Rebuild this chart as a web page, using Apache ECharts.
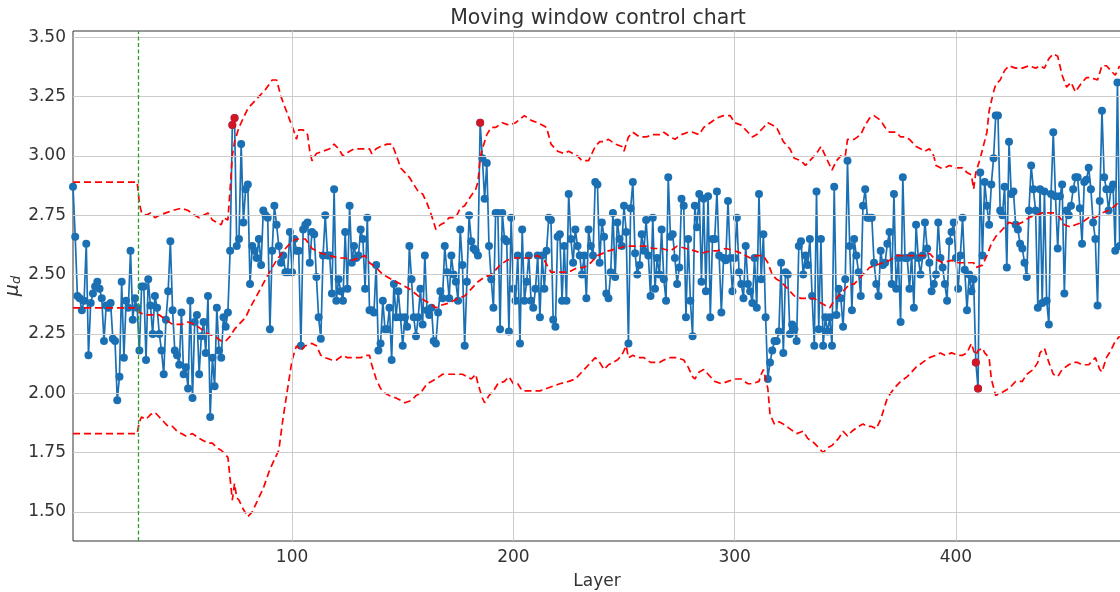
<!DOCTYPE html>
<html>
<head>
<meta charset="utf-8">
<script src="https://cdn.jsdelivr.net/npm/echarts@6/dist/echarts.min.js"></script>
<style>html,body{margin:0;padding:0;background:#fff}#c{width:1120px;height:592px}</style>
</head>
<body>
<div id="c"></div>
<script>
const titleText = 'Moving window control chart';
const xName = 'Layer';
const layerStart = 1;
const phaseBoundary = 30.5;
const xTicks = [100, 200, 300, 400];
const yTicks = [1.5, 1.75, 2.0, 2.25, 2.5, 2.75, 3.0, 3.25, 3.5];

const muD = [
2.87,2.66,2.41,2.40,2.35,2.39,2.63,2.16,2.38,2.42,
2.45,2.47,2.44,2.40,2.22,2.37,2.36,2.38,2.23,2.22,
1.97,2.07,2.47,2.15,2.39,2.36,2.60,2.31,2.40,2.36,
2.18,2.45,2.45,2.14,2.48,2.37,2.25,2.41,2.36,2.25,
2.18,2.08,2.31,2.43,2.64,2.35,2.18,2.16,2.12,2.34,
2.08,2.11,2.02,2.39,1.98,2.30,2.33,2.08,2.24,2.30,
2.17,2.41,1.90,2.15,2.03,2.36,2.18,2.15,2.32,2.28,
2.34,2.60,3.13,3.16,2.62,2.65,3.05,2.72,2.86,2.88,
2.46,2.62,2.60,2.57,2.65,2.54,2.77,2.75,2.74,2.27,
2.60,2.79,2.71,2.62,2.55,2.58,2.51,2.51,2.68,2.51,
2.65,2.60,2.60,2.20,2.69,2.71,2.72,2.55,2.68,2.67,
2.49,2.32,2.23,2.58,2.75,2.58,2.58,2.42,2.86,2.39,
2.48,2.43,2.39,2.68,2.44,2.79,2.55,2.62,2.57,2.58,
2.69,2.65,2.44,2.74,2.35,2.35,2.34,2.54,2.18,2.21,
2.39,2.27,2.27,2.36,2.14,2.46,2.32,2.43,2.32,2.20,
2.32,2.28,2.62,2.48,2.32,2.24,2.32,2.44,2.29,2.58,
2.35,2.33,2.36,2.22,2.21,2.34,2.43,2.40,2.62,2.51,
2.40,2.58,2.50,2.47,2.39,2.69,2.54,2.20,2.47,2.75,
2.64,2.61,2.60,2.58,3.14,2.99,2.82,2.97,2.62,2.48,
2.36,2.76,2.76,2.27,2.76,2.65,2.64,2.26,2.74,2.44,
2.39,2.58,2.21,2.69,2.39,2.47,2.58,2.39,2.36,2.44,
2.58,2.32,2.58,2.44,2.60,2.74,2.73,2.31,2.28,2.66,
2.67,2.39,2.62,2.39,2.84,2.65,2.55,2.69,2.62,2.58,
2.50,2.58,2.40,2.69,2.62,2.58,2.89,2.88,2.55,2.72,
2.66,2.42,2.40,2.51,2.76,2.49,2.72,2.65,2.62,2.79,
2.68,2.21,2.78,2.89,2.59,2.50,2.54,2.67,2.60,2.73,
2.58,2.41,2.74,2.44,2.57,2.50,2.69,2.48,2.39,2.91,
2.66,2.67,2.57,2.46,2.53,2.82,2.79,2.32,2.65,2.39,
2.24,2.79,2.70,2.84,2.47,2.82,2.43,2.83,2.32,2.65,
2.65,2.85,2.58,2.34,2.57,2.56,2.81,2.57,2.43,2.57,
2.74,2.51,2.46,2.40,2.62,2.46,2.43,2.38,2.57,2.36,
2.84,2.48,2.67,2.32,2.06,2.13,2.18,2.22,2.22,2.26,
2.55,2.17,2.51,2.50,2.25,2.29,2.27,2.22,2.62,2.64,
2.50,2.58,2.54,2.65,2.41,2.20,2.85,2.27,2.65,2.20,
2.32,2.26,2.32,2.20,2.87,2.33,2.44,2.40,2.28,2.48,
2.98,2.62,2.35,2.65,2.58,2.51,2.41,2.79,2.86,2.74,
2.74,2.74,2.55,2.46,2.41,2.60,2.54,2.55,2.63,2.68,
2.46,2.84,2.44,2.57,2.30,2.91,2.57,2.57,2.44,2.58,
2.36,2.71,2.57,2.50,2.58,2.72,2.61,2.55,2.43,2.46,
2.50,2.72,2.57,2.53,2.46,2.39,2.64,2.68,2.72,2.57,
2.44,2.58,2.74,2.52,2.35,2.50,2.43,2.48,2.13,2.02,
2.93,2.58,2.89,2.79,2.71,2.88,2.99,3.17,3.17,2.77,
2.75,2.87,2.53,3.06,2.84,2.85,2.71,2.69,2.63,2.61,
2.55,2.49,2.77,2.96,2.86,2.77,2.36,2.86,2.38,2.85,
2.39,2.29,2.84,3.10,2.83,2.61,2.83,2.88,2.42,2.77,
2.75,2.79,2.86,2.91,2.91,2.78,2.63,2.89,2.90,2.95,
2.86,2.72,2.65,2.37,2.81,3.19,2.91,2.86,2.77,2.86,
2.88,2.60,3.31,2.62
];

const outLayers = [73, 74, 185, 409, 410];

const uclPts = [[1,2.89],[30,2.89],[31,2.80],[32,2.76],[34,2.75],[36,2.76],[38,2.74],[40,2.75],[43,2.76],[46,2.77],[50,2.78],[53,2.77],[56,2.75],[58,2.74],[60,2.75],[62,2.76],[64,2.73],[66,2.72],[68,2.71],[69,2.74],[71,2.73],[72,2.86],[73,3.00],[74,3.06],[76,3.12],[78,3.16],[80,3.20],[84,3.24],[88,3.28],[91,3.32],[93,3.32],[95,3.25],[97,3.20],[99,3.15],[101,3.10],[102,3.07],[103,3.11],[105,3.11],[107,3.09],[108,3.02],[109,2.98],[111,3.01],[114,3.02],[117,3.03],[119,3.05],[121,3.03],[123,3.00],[126,3.02],[128,3.03],[131,3.03],[133,3.03],[135,3.03],[136,3.01],[138,3.03],[140,3.04],[143,3.05],[145,3.05],[146,3.03],[148,2.98],[149,2.95],[151,2.93],[153,2.91],[155,2.88],[157,2.85],[159,2.84],[161,2.80],[163,2.75],[165,2.69],[167,2.71],[169,2.72],[171,2.74],[174,2.74],[176,2.78],[178,2.79],[180,2.82],[183,2.86],[184,2.89],[185,2.99],[186,3.03],[188,3.09],[190,3.12],[192,3.12],[195,3.14],[198,3.13],[201,3.14],[205,3.17],[208,3.15],[211,3.14],[213,3.13],[215,3.12],[217,3.05],[220,3.02],[223,3.01],[225,3.02],[227,3.01],[229,3.00],[231,2.98],[234,2.98],[235,3.00],[237,3.04],[239,3.06],[241,3.06],[243,3.07],[246,3.05],[249,3.04],[250,3.02],[252,3.08],[254,3.10],[257,3.08],[260,3.08],[263,3.09],[267,3.09],[268,3.10],[271,3.08],[273,3.07],[276,3.09],[279,3.10],[281,3.10],[284,3.09],[286,3.12],[289,3.14],[292,3.16],[295,3.17],[298,3.17],[300,3.14],[303,3.13],[306,3.10],[308,3.08],[310,3.09],[313,3.12],[315,3.14],[317,3.13],[319,3.12],[322,3.06],[325,3.03],[327,2.99],[330,2.98],[332,2.96],[334,2.98],[337,3.01],[339,3.04],[340,3.02],[342,2.98],[344,2.94],[346,2.98],[348,3.00],[350,3.00],[351,3.07],[354,3.07],[357,3.09],[359,3.13],[361,3.16],[363,3.17],[366,3.15],[368,3.12],[370,3.10],[373,3.10],[375,3.08],[377,3.08],[379,3.07],[382,3.04],[384,3.03],[386,3.02],[388,3.03],[390,3.00],[391,2.96],[393,2.95],[395,2.95],[397,2.96],[400,2.95],[403,2.95],[405,2.93],[407,2.92],[408,2.86],[409,2.93],[411,2.99],[414,3.10],[415,3.19],[417,3.27],[418,3.30],[420,3.32],[422,3.36],[424,3.38],[427,3.37],[430,3.37],[433,3.38],[436,3.37],[438,3.38],[440,3.37],[442,3.41],[444,3.43],[446,3.42],[448,3.34],[450,3.29],[452,3.31],[454,3.27],[457,3.31],[459,3.33],[461,3.33],[464,3.32],[466,3.38],[468,3.38],[470,3.36],[472,3.34],[474,3.38]];

const clPts = [[1,2.36],[30,2.36],[31,2.34],[34,2.33],[37,2.33],[40,2.33],[43,2.31],[46,2.29],[50,2.29],[53,2.30],[56,2.29],[59,2.27],[62,2.25],[65,2.24],[68,2.22],[70,2.22],[72,2.24],[74,2.27],[76,2.29],[79,2.32],[81,2.36],[84,2.41],[88,2.48],[91,2.53],[93,2.56],[97,2.61],[100,2.64],[102,2.65],[106,2.65],[109,2.61],[113,2.59],[117,2.58],[121,2.57],[124,2.57],[127,2.56],[130,2.57],[133,2.58],[135,2.55],[138,2.53],[141,2.50],[145,2.48],[149,2.46],[153,2.44],[157,2.41],[160,2.39],[162,2.38],[165,2.36],[167,2.37],[171,2.38],[175,2.40],[178,2.41],[181,2.44],[184,2.47],[187,2.49],[190,2.50],[194,2.54],[197,2.56],[200,2.57],[203,2.57],[208,2.57],[211,2.58],[214,2.56],[217,2.51],[221,2.51],[225,2.51],[229,2.53],[232,2.53],[235,2.55],[238,2.58],[243,2.60],[247,2.61],[251,2.62],[256,2.62],[260,2.62],[263,2.61],[267,2.61],[271,2.60],[274,2.62],[278,2.61],[282,2.60],[285,2.59],[289,2.60],[292,2.60],[296,2.61],[300,2.60],[303,2.59],[307,2.57],[310,2.58],[313,2.58],[315,2.55],[317,2.50],[319,2.48],[321,2.47],[324,2.44],[327,2.41],[330,2.40],[333,2.40],[336,2.40],[339,2.38],[343,2.36],[345,2.39],[349,2.43],[352,2.46],[354,2.46],[356,2.48],[358,2.50],[361,2.53],[364,2.54],[367,2.55],[370,2.56],[373,2.58],[376,2.58],[380,2.58],[384,2.58],[387,2.58],[388,2.59],[390,2.57],[394,2.55],[398,2.56],[401,2.55],[405,2.55],[408,2.55],[409,2.53],[412,2.54],[414,2.58],[416,2.63],[418,2.66],[421,2.69],[424,2.72],[427,2.71],[430,2.72],[433,2.74],[436,2.75],[439,2.76],[442,2.76],[445,2.76],[447,2.74],[449,2.71],[452,2.70],[454,2.71],[457,2.72],[460,2.74],[463,2.74],[466,2.76],[469,2.77],[472,2.79],[474,2.81]];

const lclPts = [[1,1.83],[30,1.83],[31,1.88],[32,1.90],[34,1.89],[36,1.91],[38,1.92],[40,1.90],[42,1.88],[44,1.86],[46,1.86],[48,1.84],[50,1.83],[52,1.82],[55,1.83],[58,1.81],[60,1.80],[62,1.79],[64,1.79],[66,1.77],[68,1.76],[70,1.74],[71,1.73],[72,1.64],[73,1.55],[74,1.62],[75,1.56],[76,1.55],[78,1.51],[80,1.48],[82,1.50],[84,1.54],[87,1.60],[90,1.68],[92,1.72],[94,1.76],[96,1.90],[98,2.02],[100,2.14],[102,2.20],[104,2.18],[106,2.20],[109,2.21],[111,2.20],[113,2.16],[115,2.15],[118,2.14],[120,2.14],[123,2.16],[125,2.15],[128,2.15],[131,2.15],[133,2.16],[135,2.16],[136,2.12],[138,2.06],[140,2.02],[142,2.00],[144,1.99],[147,1.98],[149,1.97],[151,1.96],[154,1.97],[156,1.99],[158,2.00],[161,2.04],[165,2.06],[168,2.08],[171,2.08],[174,2.08],[177,2.08],[181,2.06],[183,2.08],[184,2.04],[186,1.98],[187,1.96],[189,1.99],[191,2.01],[193,2.04],[196,2.05],[198,2.07],[200,2.04],[202,2.04],[204,2.01],[207,2.01],[210,2.01],[212,2.01],[215,2.02],[218,2.03],[221,2.04],[225,2.05],[228,2.06],[230,2.08],[232,2.10],[235,2.13],[237,2.15],[239,2.13],[241,2.10],[243,2.12],[245,2.13],[247,2.14],[249,2.16],[251,2.20],[252,2.15],[254,2.16],[256,2.15],[259,2.15],[262,2.13],[266,2.13],[268,2.14],[271,2.15],[274,2.15],[277,2.14],[279,2.11],[281,2.07],[282,2.06],[284,2.09],[286,2.10],[288,2.08],[291,2.05],[294,2.04],[297,2.05],[300,2.06],[303,2.06],[306,2.04],[308,2.04],[311,2.05],[312,2.08],[313,2.10],[315,2.02],[316,1.91],[318,1.87],[320,1.88],[322,1.87],[325,1.85],[328,1.83],[331,1.84],[333,1.81],[336,1.79],[338,1.77],[340,1.75],[342,1.77],[344,1.78],[347,1.81],[349,1.84],[351,1.82],[353,1.84],[356,1.86],[358,1.87],[360,1.86],[362,1.86],[364,1.85],[366,1.89],[369,1.98],[372,2.02],[375,2.05],[378,2.07],[380,2.09],[382,2.11],[385,2.13],[388,2.15],[391,2.16],[393,2.17],[395,2.16],[398,2.17],[401,2.16],[403,2.16],[405,2.17],[407,2.21],[408,2.18],[409,2.16],[410,2.18],[412,2.19],[413,2.17],[415,2.15],[416,2.06],[418,1.99],[420,2.00],[422,2.01],[424,2.02],[427,2.05],[430,2.05],[432,2.08],[435,2.10],[437,2.13],[438,2.17],[440,2.19],[442,2.13],[444,2.08],[446,2.07],[448,2.10],[451,2.12],[453,2.13],[455,2.13],[457,2.12],[460,2.12],[463,2.15],[465,2.10],[466,2.09],[468,2.15],[470,2.18],[472,2.22],[474,2.24]];

const BLUE = '#1a70b3', RED = '#ff0000', GREEN = '#2ca02c', TXT = '#333333';
const FONT = 'DejaVu Sans';

const chart = echarts.init(document.getElementById('c'), null, {renderer: 'canvas'});
const dataPts = muD.map((v, i) => [layerStart + i, v]);
const outPts = outLayers.map(L => [L, muD[L - layerStart]]);
const limitStyle = {color: RED, width: 1.7, type: [7, 4]};

chart.setOption({
  animation: false,
  backgroundColor: '#ffffff',
  title: {
    text: titleText, left: 593, top: 3, textAlign: 'center',
    textStyle: {fontFamily: FONT, fontSize: 20.5, fontWeight: 'normal', color: TXT}
  },
  grid: {left: 73, right: -1, top: 31, bottom: 51, containLabel: false, outerBoundsMode: 'none',
    show: true, borderColor: '#333', borderWidth: 1, backgroundColor: '#fff'},
  xAxis: {
    type: 'value', min: 1, max: 474.6,
    name: xName, nameLocation: 'middle', nameGap: 32, nameMoveOverlap: false,
    nameTextStyle: {fontFamily: FONT, fontSize: 17, color: TXT},
    axisLine: {show: false}, axisTick: {show: false}, splitLine: {show: false},
    axisLabel: {customValues: xTicks, fontFamily: FONT, fontSize: 17, color: TXT, margin: 8}
  },
  yAxis: {
    type: 'value', min: 1.3774, max: 3.5265,
    name: '{m|μ}{s|d}', nameLocation: 'middle', nameGap: 50, nameMoveOverlap: false,
    nameTextStyle: {color: TXT, rich: {
      m: {fontFamily: FONT, fontStyle: 'italic', fontSize: 19, color: TXT, lineHeight: 22, verticalAlign: 'bottom'},
      s: {fontFamily: FONT, fontStyle: 'italic', fontSize: 13, color: TXT, lineHeight: 13, verticalAlign: 'bottom'}
    }},
    axisLine: {show: false}, axisTick: {show: false}, splitLine: {show: false},
    axisLabel: {customValues: yTicks, fontFamily: FONT, fontSize: 17, color: TXT, margin: 7,
      formatter: v => Number(v).toFixed(2)}
  },
  series: [
    {
      type: 'line', data: [], z: 1, silent: true,
      markLine: {
        silent: true, symbol: ['none', 'none'], label: {show: false}, animation: false,
        lineStyle: {color: '#cccccc', width: 1, type: 'solid'},
        data: [...xTicks.map(v => ({xAxis: v})), ...yTicks.map(v => ({yAxis: v}))]
      }
    },
    {
      type: 'line', data: dataPts, z: 2, symbol: 'circle', symbolSize: 8, showAllSymbol: true,
      lineStyle: {color: BLUE, width: 1.7}, itemStyle: {color: BLUE}
    },
    {type: 'line', data: uclPts, z: 3, symbol: 'none', lineStyle: limitStyle},
    {type: 'line', data: clPts, z: 3, symbol: 'none', lineStyle: limitStyle},
    {type: 'line', data: lclPts, z: 3, symbol: 'none', lineStyle: limitStyle},
    {type: 'scatter', data: outPts, z: 4, symbol: 'circle', symbolSize: 8, itemStyle: {color: RED}},
    {
      type: 'line', data: [], z: 5, silent: true, color: GREEN,
      markLine: {
        silent: true, symbol: ['none', 'none'], label: {show: false}, animation: false,
        lineStyle: {color: GREEN, width: 1.3, type: [4, 2.5], opacity: 1},
        data: [{xAxis: phaseBoundary}]
      }
    }
  ]
});
</script>
</body>
</html>
